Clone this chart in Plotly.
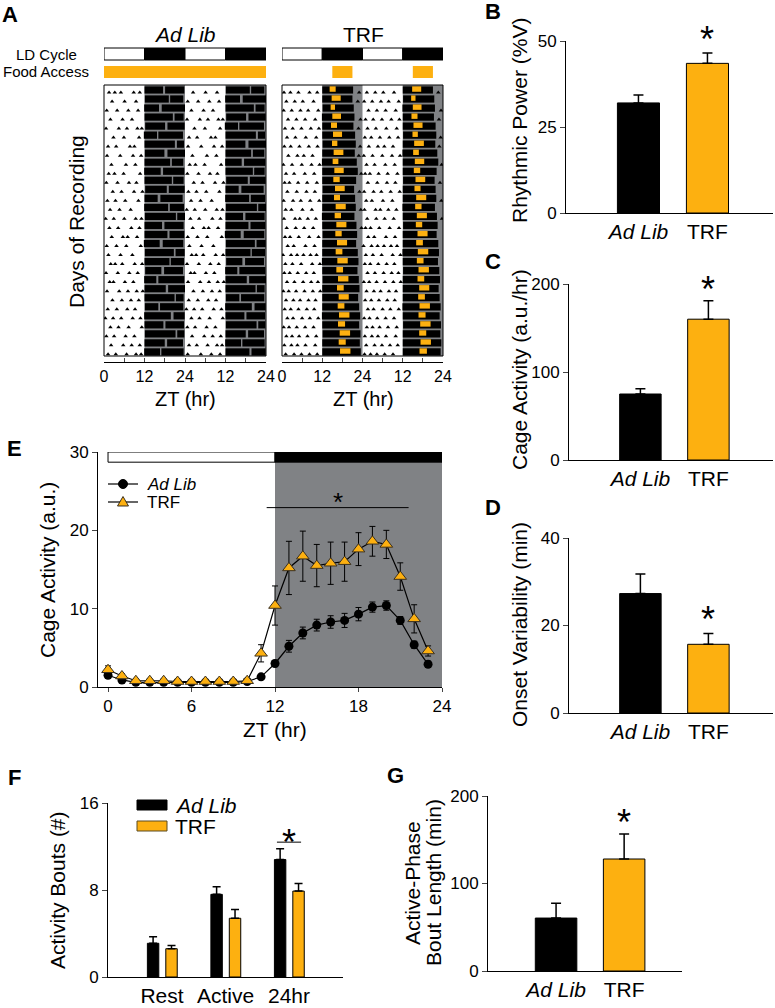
import plotly.graph_objects as go

W, H = 775, 1008
FONT = 'Liberation Sans, Arial, sans-serif'
ORANGE = '#FDB010'
GRAY = '#808285'

# ---------------- panel A : double-plotted actograms (one value per recording day) ----------------
adlib_onset = [12.0, 12.1, 11.9, 12.0, 12.2, 11.8, 12.0, 12.1, 12.0, 11.9, 12.0, 12.2, 12.0, 11.9, 12.1, 12.0,
               12.0, 11.8, 12.1, 12.0, 12.2, 11.9, 12.0, 12.0, 12.1, 11.9, 12.0, 12.1, 12.0, 11.9, 12.0]
adlib_offset = [23.8, 23.5, 24.0, 23.6, 23.9, 23.4, 23.7, 24.0, 23.5, 23.8, 23.6, 23.9, 23.3, 23.7, 24.0, 23.6,
                23.8, 23.5, 23.9, 23.7, 23.4, 23.8, 24.0, 23.6, 23.5, 23.9, 23.7, 23.8, 23.4, 23.6, 23.9]
adlib_gap_start = [17.5, 19.2, 16.3, 20.4, 18.1, 15.7, 21.0, 17.9, 19.6, 16.8, 20.1, 18.6, 15.9, 19.0, 21.3, 17.2,
                   18.8, 16.5, 20.7, 19.4, 17.0, 15.5, 18.3, 20.9, 16.1, 19.8, 17.6, 21.2, 18.0, 16.6, 19.1]
adlib_gap_len = [0.6, 0.4, 0.8, 0.5, 0.7, 0.4, 0.6, 0.9, 0.5, 0.7, 0.4, 0.6, 0.8, 0.5, 0.4, 0.7,
                 0.6, 0.9, 0.5, 0.4, 0.8, 0.6, 0.7, 0.4, 0.5, 0.8, 0.6, 0.5, 0.7, 0.4, 0.6]
adlib_rest_bouts = [
    [1.5, 3.2, 5.0, 8.8, 10.6], [2.4, 6.1, 9.5], [0.8, 3.9, 7.2, 10.1], [1.9, 5.5, 8.3],
    [0.6, 4.4, 6.8, 9.9, 11.2], [2.8, 5.9, 10.4], [1.2, 3.6, 7.7, 9.0], [0.9, 4.8, 8.6, 11.0],
    [2.2, 6.5, 9.3], [1.4, 3.1, 5.8, 10.7], [0.7, 4.0, 7.4, 9.6], [2.6, 5.2, 8.9, 11.4],
    [1.0, 3.4, 6.3, 10.2], [1.8, 4.6, 7.9], [0.5, 2.9, 6.0, 9.4, 11.1], [1.6, 4.2, 8.1, 10.5],
    [2.3, 5.6, 7.0, 9.8], [0.8, 3.7, 6.6, 10.9], [1.3, 4.9, 8.4], [2.0, 3.3, 5.4, 9.1, 11.3],
    [0.6, 4.1, 7.5, 10.0], [1.7, 2.8, 6.2, 8.7], [0.9, 4.5, 7.1, 9.7, 11.5], [2.5, 5.3, 8.0, 10.3],
    [1.1, 3.8, 6.9, 9.2], [0.4, 2.7, 5.1, 8.5, 10.8], [1.9, 4.3, 7.3, 11.2], [0.7, 3.0, 6.4, 9.0],
    [2.1, 5.7, 8.2, 10.6], [1.2, 3.5, 6.7, 9.5, 11.0], [0.8, 4.7, 7.8, 10.4],
]

trf_onset = [12.0, 12.0, 12.1, 11.9, 12.0, 12.0, 12.1, 12.0, 11.9, 12.0, 12.0, 12.1, 12.0, 12.0, 11.9, 12.0,
             12.1, 12.0, 12.0, 11.9, 12.0, 12.1, 12.0, 12.0, 12.0, 11.9, 12.0, 12.1, 12.0, 12.0, 12.0]
trf_offset = [21.2, 21.0, 21.4, 21.6, 21.3, 21.8, 22.0, 21.7, 22.3, 22.6, 22.1, 21.5, 21.8, 22.0, 21.6, 22.2,
              22.4, 22.1, 22.6, 22.8, 22.5, 22.9, 23.1, 22.7, 23.0, 23.3, 23.0, 23.4, 23.2, 23.5, 23.3]
trf_feed_start = [14.2, 14.8, 14.5, 15.0, 14.6, 15.2, 14.9, 15.4, 15.1, 15.6, 15.3, 15.8, 15.5, 16.0, 15.7, 16.2,
                  15.9, 16.4, 16.0, 16.5, 16.2, 16.7, 16.4, 16.9, 16.6, 17.0, 16.7, 17.2, 16.9, 17.3, 17.0]
trf_feed_end = [16.0, 17.5, 15.8, 17.6, 16.4, 17.9, 16.5, 18.3, 16.8, 18.4, 17.2, 18.7, 17.3, 19.0, 17.6, 19.2,
                17.8, 19.4, 18.0, 19.6, 18.2, 19.8, 18.4, 19.9, 18.6, 20.1, 18.8, 20.3, 19.0, 20.4, 19.2]
trf_rest_bouts = [
    [0.6, 2.5, 4.9, 8.2, 10.5, 23.0], [1.3, 3.8, 6.2, 9.4, 22.6], [0.5, 2.9, 5.5, 7.8, 10.8],
    [1.8, 4.3, 6.9, 9.9, 23.4], [0.9, 3.2, 5.8, 8.6, 11.0, 22.8], [1.5, 4.0, 7.1, 10.2],
    [0.7, 2.6, 5.2, 8.0, 10.6, 23.3], [1.9, 4.6, 6.5, 9.1, 22.9], [0.4, 3.0, 5.9, 8.8, 11.2],
    [1.2, 3.6, 6.8, 9.6, 23.6], [0.8, 2.2, 4.8, 7.5, 10.4], [1.6, 4.4, 7.3, 9.8, 23.1],
    [0.5, 3.3, 5.6, 8.4, 11.1], [1.1, 2.8, 6.1, 8.9, 23.5], [0.6, 3.9, 5.3, 7.7, 10.1],
    [1.4, 4.1, 6.6, 9.3, 23.7], [0.9, 2.4, 5.0, 8.1, 10.9], [1.7, 3.5, 7.0, 9.7],
    [0.3, 2.7, 4.5, 6.4, 8.5, 10.3], [1.0, 3.1, 5.7, 9.0, 11.3], [0.7, 2.3, 4.7, 7.2, 9.5],
    [1.5, 3.7, 6.3, 8.7, 10.7], [0.4, 2.0, 4.2, 6.7, 9.2, 11.4], [1.2, 3.4, 5.4, 7.9, 10.0],
    [0.8, 2.6, 4.9, 7.4, 9.6], [1.6, 3.3, 6.0, 8.3, 10.8], [0.5, 2.1, 4.4, 6.9, 9.4],
    [1.3, 3.0, 5.1, 7.6, 10.2], [0.7, 2.8, 4.6, 7.0, 9.9], [1.1, 3.6, 5.8, 8.2, 10.5],
    [0.6, 2.4, 4.3, 6.6, 9.1],
]
ld_edges = [0, 12, 24, 36, 48]
trf_food_window = [15, 21]

# ---------------- panels B, C, D, G ----------------
groups = ['Ad Lib', 'TRF']
power_mean = [32.0, 43.5]
power_sem = [2.3, 3.0]
cage_mean = [75, 160]
cage_sem = [6, 21]
onset_var_mean = [27.3, 15.7]
onset_var_sem = [4.5, 2.5]
bout_len_mean = [60.5, 128]
bout_len_sem = [17, 28.5]

# ---------------- panel E : hourly cage activity ----------------
zt = list(range(24))
adlib_act = [1.5, 0.9, 0.6, 0.6, 0.6, 0.6, 0.6, 0.6, 0.6, 0.6, 0.7, 1.3,
             3.0, 5.2, 6.9, 7.9, 8.3, 8.5, 9.3, 10.2, 10.4, 8.5, 5.4, 2.9]
adlib_act_sem = [0.4, 0.3, 0.2, 0.2, 0.2, 0.2, 0.2, 0.2, 0.2, 0.2, 0.2, 0.3,
                 0.4, 0.75, 0.75, 0.75, 0.8, 0.9, 0.85, 0.65, 0.6, 0.5, 0.45, 0.4]
trf_act = [2.2, 1.4, 0.8, 0.8, 0.8, 0.7, 0.7, 0.7, 0.7, 0.7, 0.8, 4.3,
           10.4, 15.2, 16.7, 15.5, 15.8, 16.0, 17.6, 18.6, 18.2, 14.1, 8.7, 4.6]
trf_act_sem = [0.5, 0.3, 0.2, 0.2, 0.2, 0.2, 0.2, 0.2, 0.2, 0.2, 0.3, 1.1,
               2.5, 3.4, 3.2, 2.7, 2.7, 2.5, 2.1, 1.9, 1.8, 1.75, 1.8, 0.65]

# ---------------- panel F : activity bouts ----------------
phases = ['Rest', 'Active', '24hr']
bouts_adlib = [3.1, 7.6, 10.8]
bouts_adlib_sem = [0.6, 0.7, 1.0]
bouts_trf = [2.6, 5.4, 7.9]
bouts_trf_sem = [0.3, 0.8, 0.7]


def px(x):
    return x / W


def py(y):
    return 1 - y / H


def dom_x(a, b):
    return [a / W, b / W]


def dom_y(top, bottom):
    return [1 - bottom / H, 1 - top / H]


def ax(n):
    s = '' if n == 1 else str(n)
    return 'x' + s, 'y' + s, 'xaxis' + s, 'yaxis' + s


fig = go.Figure()
shapes = []
ann = []
layout = {}


def text(x, y, s, size=21, bold=False, italic=False, angle=0, xanchor='center'):
    if italic:
        s = '<i>' + s + '</i>'
    if bold:
        s = '<b>' + s + '</b>'
    ann.append(dict(x=px(x), y=py(y), xref='paper', yref='paper', text=s, showarrow=False,
                    font=dict(size=size, family=FONT, color='black'), textangle=angle,
                    xanchor=xanchor, yanchor='middle'))


def star(xref, yref, x, y, above, size=36):
    # 'above' = pixels between the data point and the centre of the asterisk
    ann.append(dict(x=x, y=y, xref=xref, yref=yref, text='*', showarrow=False,
                    font=dict(size=size, family=FONT, color='black'), yanchor='bottom',
                    yshift=above - size * 0.825))


# ---------- actograms ----------
def actogram(n, xdom, onset, offset, rest_bouts, food, gap_start=None, gap_len=None,
             feed_start=None, feed_end=None):
    xa, ya, xk, yk = ax(n)
    nrows = len(onset) - 1
    for shift in (0, 24):
        days = list(range(shift // 24, shift // 24 + nrows))
        rows = [d - shift // 24 for d in days]
        if gap_start:
            segs = [([onset[d] for d in days], [gap_start[d] for d in days]),
                    ([gap_start[d] + gap_len[d] for d in days], [offset[d] for d in days])]
        else:
            segs = [([onset[d] for d in days], [offset[d] for d in days])]
        for s, e in segs:
            fig.add_trace(go.Bar(orientation='h', y=[r + 0.55 for r in rows], base=[v + shift for v in s],
                                 x=[b - a for a, b in zip(s, e)], width=0.8,
                                 marker=dict(color='black', line=dict(width=0)),
                                 xaxis=xa, yaxis=ya, showlegend=False, hoverinfo='skip'))
        if feed_start:
            fig.add_trace(go.Bar(orientation='h', y=[r + 0.45 for r in rows],
                                 base=[feed_start[d] + shift for d in days],
                                 x=[feed_end[d] - feed_start[d] for d in days], width=0.6,
                                 marker=dict(color=ORANGE, line=dict(width=0)),
                                 xaxis=xa, yaxis=ya, showlegend=False, hoverinfo='skip'))
        bx, by = [], []
        for d, r in zip(days, rows):
            for t in rest_bouts[d]:
                bx.append(t + shift)
                by.append(r + 0.82)
        fig.add_trace(go.Scatter(x=bx, y=by, mode='markers',
                                 marker=dict(symbol='triangle-up', size=4, color='black'),
                                 xaxis=xa, yaxis=ya, showlegend=False, hoverinfo='skip'))
    layout[xk] = dict(domain=dom_x(*xdom), range=[0, 48], anchor='free', position=py(362),
                      showline=True, linecolor='black', linewidth=1, ticks='inside',
                      ticklen=4, tickvals=list(range(0, 49, 6)),
                      ticktext=['0', '', '12', '', '24', '', '12', '', '24'],
                      tickfont=dict(size=16), showgrid=False, zeroline=False)
    layout[yk] = dict(domain=dom_y(85, 356), range=[nrows, 0], visible=False, anchor=xa)
    # dark phase shading, LD bar and frame
    for i in range(len(ld_edges) - 1):
        if i % 2 == 1:
            shapes.append(dict(type='rect', xref=xa, yref=ya + ' domain', x0=ld_edges[i], x1=ld_edges[i + 1],
                               y0=0, y1=1, fillcolor=GRAY, line=dict(width=0), layer='below'))
        shapes.append(dict(type='rect', xref=xa, yref='paper', x0=ld_edges[i], x1=ld_edges[i + 1],
                           y0=py(60), y1=py(48), fillcolor='black' if i % 2 else 'white',
                           line=dict(color='black', width=1)))
    shapes.append(dict(type='rect', xref=xa + ' domain', yref=ya + ' domain', x0=0, x1=1, y0=0, y1=1,
                       line=dict(color='black', width=1)))
    for a, b in food:
        shapes.append(dict(type='rect', xref=xa, yref='paper', x0=a, x1=b, y0=py(78), y1=py(66),
                           fillcolor=ORANGE, line=dict(width=0)))


actogram(1, (104, 266), adlib_onset, adlib_offset, adlib_rest_bouts, [(0, 48)],
         gap_start=adlib_gap_start, gap_len=adlib_gap_len)
actogram(2, (282, 443), trf_onset, trf_offset, trf_rest_bouts,
         [(trf_food_window[0], trf_food_window[1]), (trf_food_window[0] + 24, trf_food_window[1] + 24)],
         feed_start=trf_feed_start, feed_end=trf_feed_end)

text(10, 15, 'A', size=22, bold=True)
text(185, 35, 'Ad Lib', italic=True)
text(363, 35, 'TRF')
text(46, 54, 'LD Cycle', size=15)
text(46, 72, 'Food Access', size=15)
text(76, 222, 'Days of Recording', angle=-90)
text(185, 399, 'ZT (hr)', size=20)
text(363, 399, 'ZT (hr)', size=20)


# ---------- two-bar panels ----------
def bar_panel(n, xdom, ydom, means, sems, yrange, ytick):
    xa, ya, xk, yk = ax(n)
    fig.add_trace(go.Bar(x=[1, 2], y=means, width=0.61,
                         marker=dict(color=['black', ORANGE], line=dict(color='black', width=1)),
                         error_y=dict(type='data', symmetric=False, array=sems, arrayminus=[0, 0],
                                      color='black', thickness=1.5, width=5),
                         xaxis=xa, yaxis=ya, showlegend=False, hoverinfo='skip'))
    layout[xk] = dict(domain=dom_x(*xdom), anchor=ya, range=[-0.05, 2.95], tickvals=[1, 2],
                      ticktext=['<i>%s</i>' % groups[0], groups[1]], tickfont=dict(size=21),
                      showline=True, linecolor='black', linewidth=1, ticks='',
                      showgrid=False, zeroline=False)
    layout[yk] = dict(domain=dom_y(*ydom), anchor=xa, range=yrange, dtick=ytick,
                      showline=True, linecolor='black', linewidth=1, ticks='outside',
                      ticklen=5, tickfont=dict(size=17), showgrid=False, zeroline=False)


bar_panel(3, (566, 773), (41, 213), power_mean, power_sem, [0, 50], 25)
bar_panel(4, (569, 773), (284, 460), cage_mean, cage_sem, [0, 200], 100)
bar_panel(5, (569, 773), (538, 713), onset_var_mean, onset_var_sem, [0, 40], 20)
bar_panel(8, (488, 682), (796, 971), bout_len_mean, bout_len_sem, [0, 200], 100)
layout['xaxis8']['range'] = [0, 2.85]

star('x3', 'y3', 2, power_mean[1] + power_sem[1], 21)
star('x4', 'y4', 2, cage_mean[1] + cage_sem[1], 18)
star('x5', 'y5', 2, onset_var_mean[1] + onset_var_sem[1], 21)
star('x8', 'y8', 2, bout_len_mean[1] + bout_len_sem[1], 19)

text(493, 12, 'B', size=22, bold=True)
text(493, 262, 'C', size=22, bold=True)
text(493, 507, 'D', size=22, bold=True)
text(395, 775, 'G', size=22, bold=True)
text(519, 121, 'Rhythmic Power (%V)', angle=-90)
text(519, 370, 'Cage Activity (a.u./hr)', angle=-90)
text(519, 625, 'Onset Variability (min)', angle=-90)
text(412, 883, 'Active-Phase', angle=-90)
text(433, 883, 'Bout Length (min)', angle=-90)

# ---------- panel E ----------
fig.add_trace(go.Scatter(x=zt, y=adlib_act, mode='lines+markers', name='Ad Lib',
                         line=dict(color='black', width=1.2),
                         marker=dict(symbol='circle', size=9, color='black'),
                         error_y=dict(type='data', array=adlib_act_sem, color='black', thickness=1, width=3),
                         xaxis='x6', yaxis='y6', cliponaxis=False, showlegend=False, hoverinfo='skip'))
fig.add_trace(go.Scatter(x=zt, y=trf_act, mode='lines+markers', name='TRF',
                         line=dict(color='black', width=1.2),
                         marker=dict(symbol='triangle-up', size=11, color=ORANGE,
                                     line=dict(color='#3a3020', width=1)),
                         error_y=dict(type='data', array=trf_act_sem, color='black', thickness=1, width=3),
                         xaxis='x6', yaxis='y6', cliponaxis=False, showlegend=False, hoverinfo='skip'))
layout['xaxis6'] = dict(domain=dom_x(98, 442), anchor='y6', range=[-0.72, 24], tickvals=[0, 6, 12, 18, 24],
                        showline=True, linecolor='black', linewidth=1, ticks='outside', ticklen=4,
                        tickfont=dict(size=17), showgrid=False, zeroline=False)
layout['yaxis6'] = dict(domain=dom_y(452, 687), anchor='x6', range=[0, 30], tickvals=[0, 10, 20, 30],
                        showline=True, linecolor='black', linewidth=1, ticks='outside', ticklen=5,
                        tickfont=dict(size=17), showgrid=False, zeroline=False)
shapes.append(dict(type='rect', xref='x6', yref='y6', x0=12, x1=24, y0=0, y1=28.7,
                   fillcolor=GRAY, line=dict(width=0), layer='below'))
for i, c in enumerate(['white', 'black']):
    shapes.append(dict(type='rect', xref='x6', yref='y6', x0=ld_edges[i], x1=ld_edges[i + 1], y0=28.7, y1=30,
                       fillcolor=c, line=dict(color='black', width=1)))
shapes.append(dict(type='line', xref='x6', yref='y6', x0=11.4, x1=21.6, y0=22.9, y1=22.9,
                   line=dict(color='black', width=1)))
star('x6', 'y6', 16.5, 22.9, 10, size=26)
# legend of panel E (line + symbol keys)
for yk in (484, 502):
    shapes.append(dict(type='line', xref='paper', yref='paper', x0=px(108), x1=px(138), y0=py(yk), y1=py(yk),
                       line=dict(color='black', width=1.2)))
shapes.append(dict(type='circle', xref='paper', yref='paper', x0=px(118.5), x1=px(127.5),
                   y0=py(488.5), y1=py(479.5), fillcolor='black', line=dict(color='black', width=1)))
shapes.append(dict(type='path', xref='paper', yref='paper',
                   path='M %f,%f L %f,%f L %f,%f Z' % (px(117.5), py(506), px(128.5), py(506), px(123), py(496.5)),
                   fillcolor=ORANGE, line=dict(color='#3a3020', width=1)))
text(145, 484, 'Ad Lib', size=17, italic=True, xanchor='left')
text(145, 502, 'TRF', size=17, xanchor='left')
text(14, 448, 'E', size=22, bold=True)
text(47, 570, 'Cage Activity (a.u.)', angle=-90)
text(275, 729, 'ZT (hr)')

# ---------- panel F ----------
fig.add_trace(go.Bar(x=[i - 0.14 for i in range(len(phases))], y=bouts_adlib, width=0.18,
                     marker=dict(color='black', line=dict(color='black', width=1)),
                     error_y=dict(type='data', symmetric=False, array=bouts_adlib_sem, arrayminus=[0] * 3,
                                  color='black', thickness=1.5, width=4),
                     xaxis='x7', yaxis='y7', showlegend=False, hoverinfo='skip'))
fig.add_trace(go.Bar(x=[i + 0.15 for i in range(len(phases))], y=bouts_trf, width=0.18,
                     marker=dict(color=ORANGE, line=dict(color='black', width=1)),
                     error_y=dict(type='data', symmetric=False, array=bouts_trf_sem, arrayminus=[0] * 3,
                                  color='black', thickness=1.5, width=4),
                     xaxis='x7', yaxis='y7', showlegend=False, hoverinfo='skip'))
layout['xaxis7'] = dict(domain=dom_x(108, 343), anchor='y7', range=[-0.85, 2.85],
                        tickvals=list(range(len(phases))), ticktext=phases, tickfont=dict(size=21),
                        showline=True, linecolor='black', linewidth=1, ticks='', showgrid=False, zeroline=False)
layout['yaxis7'] = dict(domain=dom_y(803, 977), anchor='x7', range=[0, 16], tickvals=[0, 8, 16],
                        showline=True, linecolor='black', linewidth=1, ticks='outside', ticklen=5,
                        tickfont=dict(size=17), showgrid=False, zeroline=False)
shapes.append(dict(type='line', xref='x7', yref='y7', x0=2 - 0.19, x1=2 + 0.19, y0=12.4, y1=12.4,
                   line=dict(color='black', width=1)))
star('x7', 'y7', 2, 12.4, 7)
# legend of panel F
shapes.append(dict(type='rect', xref='paper', yref='paper', x0=px(137), x1=px(167), y0=py(810), y1=py(800),
                   fillcolor='black', line=dict(color='black', width=1)))
shapes.append(dict(type='rect', xref='paper', yref='paper', x0=px(137), x1=px(167), y0=py(831), y1=py(821),
                   fillcolor=ORANGE, line=dict(color='#5a4a20', width=1)))
text(173, 805, 'Ad Lib', italic=True, xanchor='left')
text(173, 826, 'TRF', xanchor='left')
text(14, 777, 'F', size=22, bold=True)
text(57, 890, 'Activity Bouts (#)', angle=-90)

fig.update_layout(
    width=W, height=H, margin=dict(l=0, r=0, t=0, b=0, autoexpand=False),
    paper_bgcolor='white', plot_bgcolor='rgba(0,0,0,0)',
    font=dict(family=FONT, color='black'),
    barmode='overlay', showlegend=False,
    shapes=shapes, annotations=ann, **layout)

fig.write_html('out.html', config={'displayModeBar': False},
               post_script="document.body.style.margin='0px';")
